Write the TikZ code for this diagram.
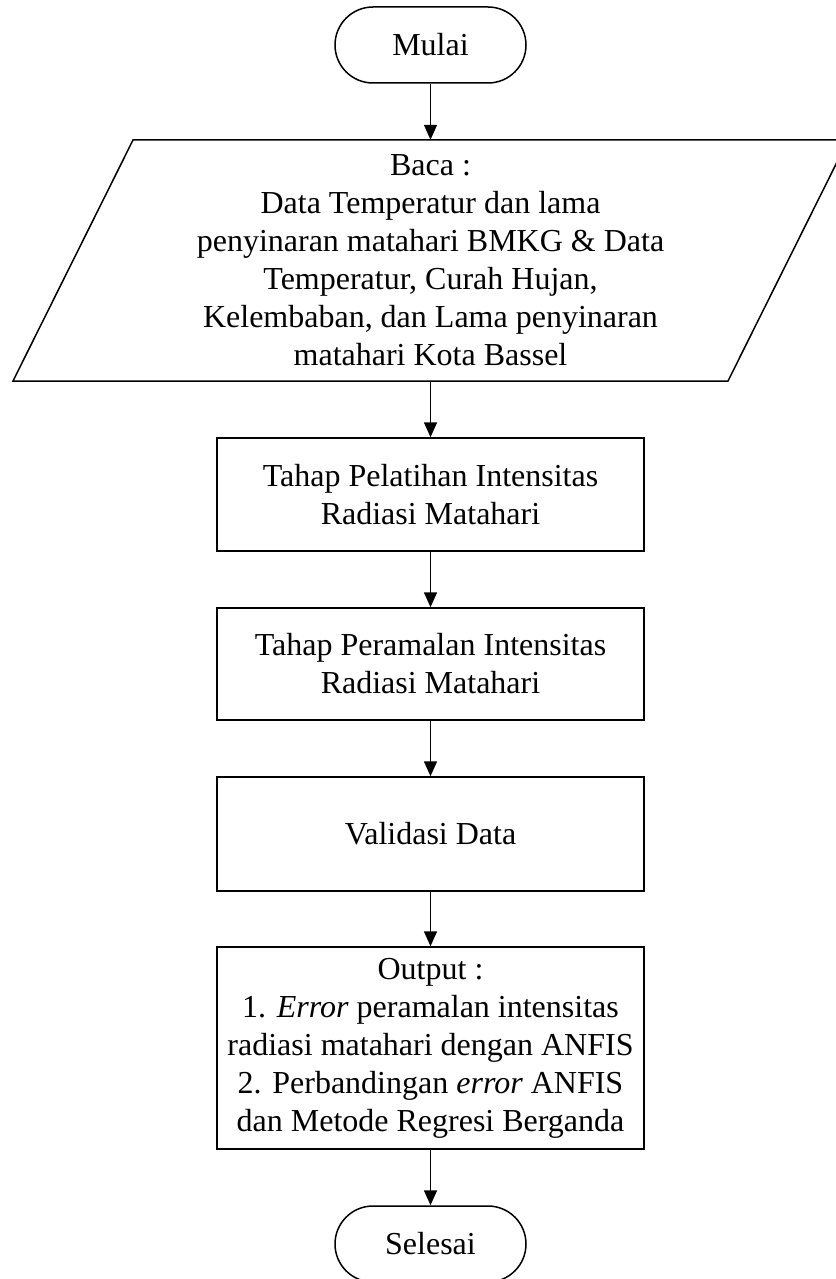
\documentclass[tikz,border=0pt]{standalone}
\usepackage{fontspec}
\setmainfont{Liberation Serif}
\usetikzlibrary{arrows.meta}
\begin{document}
\begin{tikzpicture}[x=1pt,y=-1pt,
  every node/.style={font=\fontsize{32}{38}\selectfont, align=center, inner sep=0pt},
  term/.style={draw, line width=1.5pt, rounded corners=38pt, minimum width=191pt, minimum height=76pt},
  procbox/.style={draw, line width=1.5pt, minimum width=427pt},
  conn/.style={line width=1.5pt, -{Triangle[length=15pt,width=13pt]}}
]
\useasboundingbox (0,0) rectangle (835,1279);
\node[term] (mulai) at (430.5,45) {Mulai};
\node[minimum width=400pt, minimum height=241pt] (baca) at (430.5,260.5) {Baca :\\Data Temperatur dan lama\\penyinaran matahari BMKG \& Data\\Temperatur, Curah Hujan,\\Kelembaban, dan Lama penyinaran\\matahari Kota Bassel};
\draw[line width=1.5pt] (13,381) -- (728,381) -- (848,140) -- (133,140) -- cycle;
\node[procbox, minimum height=113pt] (latih) at (430.5,494.5) {Tahap Pelatihan Intensitas\\Radiasi Matahari};
\node[procbox, minimum height=112pt] (ramal) at (430.5,664) {Tahap Peramalan Intensitas\\Radiasi Matahari};
\node[procbox, minimum height=114pt] (valid) at (430.5,834) {Validasi Data};
\node[procbox, minimum height=202pt] (output) at (430.5,1048) {Output :\\1. \textit{Error} peramalan intensitas\\radiasi matahari dengan ANFIS\\2. Perbandingan \textit{error} ANFIS\\dan Metode Regresi Berganda};
\node[term] (selesai) at (430.5,1244) {Selesai};
\draw[conn] (mulai) -- (baca);
\draw[conn] (baca) -- (latih);
\draw[conn] (latih) -- (ramal);
\draw[conn] (ramal) -- (valid);
\draw[conn] (valid) -- (output);
\draw[conn] (output) -- (selesai);
\end{tikzpicture}
\end{document}
